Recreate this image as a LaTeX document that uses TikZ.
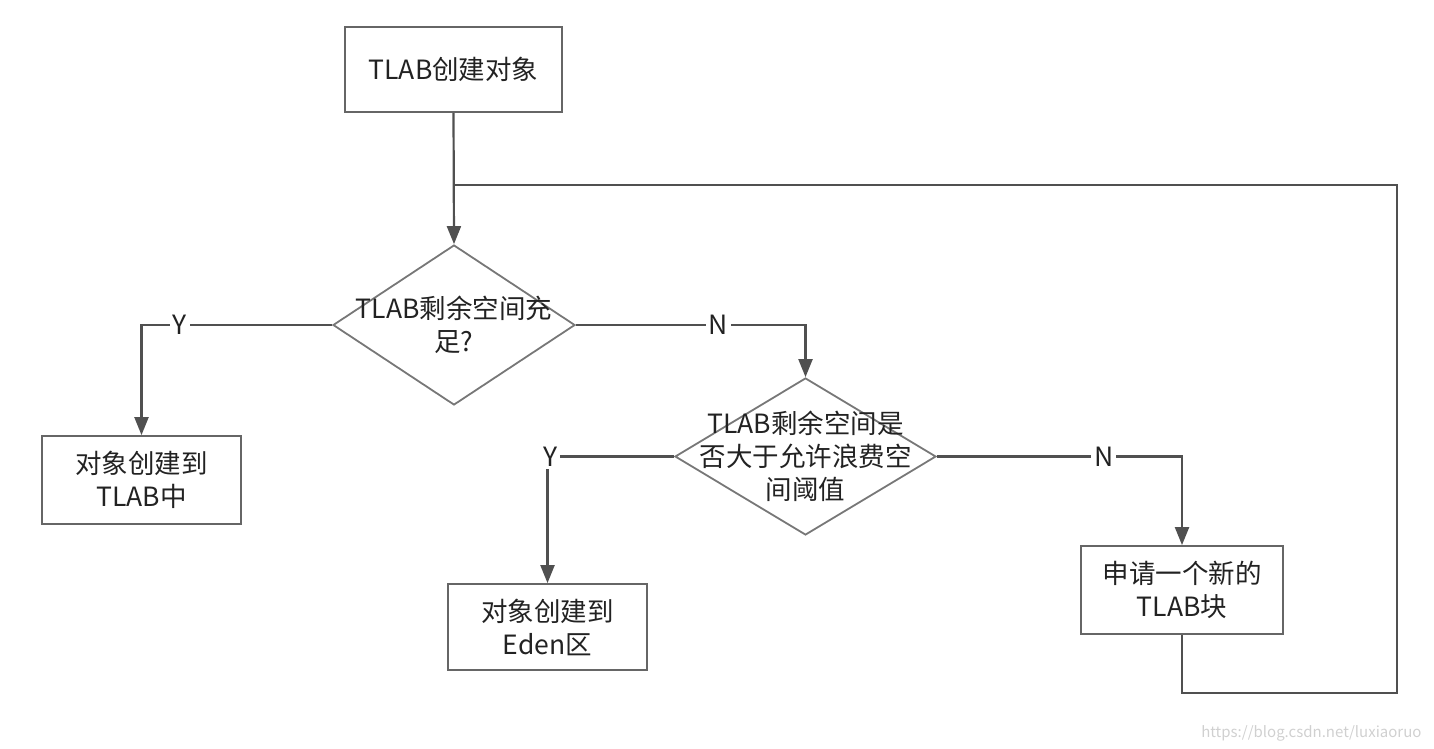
\documentclass[tikz,border=0pt]{standalone}
\usepackage{fontspec}
\setmainfont{Noto Sans CJK SC}
\usetikzlibrary{shapes.geometric,arrows.meta}
\definecolor{boxline}{HTML}{666666}
\definecolor{diaLine}{HTML}{777777}
\definecolor{conn}{HTML}{505050}
\definecolor{txt}{HTML}{222222}
\definecolor{wm}{HTML}{D0D0D0}
\begin{document}
\begin{tikzpicture}[x=1pt,y=-1pt,
  every node/.style={font=\fontsize{26.5}{33}\selectfont, text=txt},
  procbox/.style={draw=boxline, line width=1.8pt, rectangle, inner sep=0pt, align=center},
  decbox/.style={draw=diaLine, line width=1.8pt, diamond, inner sep=0pt, minimum width=242pt, minimum height=160pt},
  dectext/.style={align=center, inner sep=0pt},
  conline/.style={draw=conn, line width=2.2pt},
  arr/.style={conline, -{Triangle[length=18pt,width=14pt]}},
  lab/.style={fill=white, inner sep=3pt}
]
\useasboundingbox (0,0) rectangle (1434,748);

\node[procbox, minimum width=217pt, minimum height=85pt] (start) at (453.5,69.5) {TLAB创建对象};

\node[decbox] (d1) at (454,325) {};
\node[dectext] (d1t) at (454,325) {TLAB剩余空间充\\足?};

\node[procbox, minimum width=199pt, minimum height=88pt] (b1) at (141.5,480) {对象创建到\\TLAB中};

\node[decbox, minimum width=261pt, minimum height=157pt] (d2) at (805.5,456.5) {};
\node[dectext] (d2t) at (805.5,456) {TLAB剩余空间是\\否大于允许浪费空\\间阈值};

\node[procbox, minimum width=199pt, minimum height=86pt] (b2) at (547.5,627) {对象创建到\\Eden区};

\node[procbox, minimum width=202pt, minimum height=88pt] (b3) at (1182,590) {申请一个新的\\TLAB块};

\coordinate (join) at (454,185);
\coordinate (loopc) at (1397,693);

\draw[arr] (start.south) -- (d1.north);
\draw[arr] (d1.west) -| node[lab, pos=0.4] {Y} (b1.north);
\draw[arr] (d1.east) -| node[lab, pos=0.31] {N} (d2.north);
\draw[arr] (d2.west) -| node[lab, pos=0.49] {Y} (b2.north);
\draw[arr] (d2.east) -| node[lab, pos=0.34] {N} (b3.north);
\draw[conline] (b3.south) |- (loopc) |- (join);

\node[text=wm, font=\fontsize{15}{18}\selectfont, anchor=east] (wmk) at (1425,733) {https://blog.csdn.net/luxiaoruo};
\end{tikzpicture}
\end{document}
